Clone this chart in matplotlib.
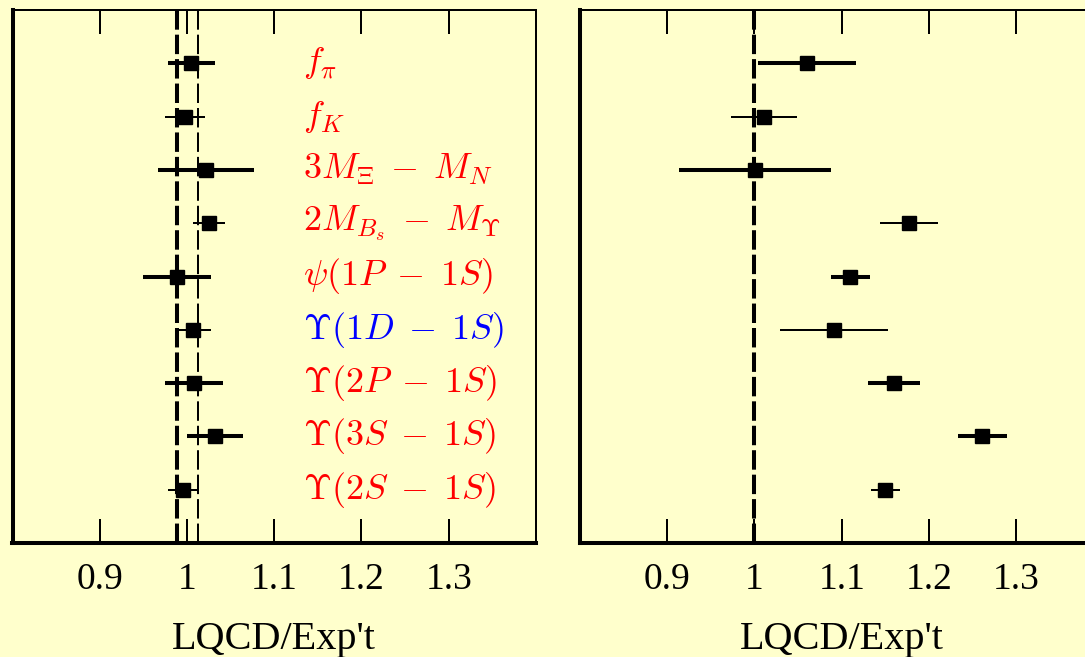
import numpy as np
import matplotlib
matplotlib.use("Agg")
import matplotlib.pyplot as plt

# ratio LQCD / experiment, top row first
labels = [r"$f_\pi$", r"$f_K$", r"$3M_\Xi \;-\; M_N$", r"$2M_{B_s} \;-\; M_\Upsilon$",
          r"$\psi(1P \;-\; 1S)$", r"$\Upsilon(1D \;-\; 1S)$", r"$\Upsilon(2P \;-\; 1S)$",
          r"$\Upsilon(3S \;-\; 1S)$", r"$\Upsilon(2S \;-\; 1S)$"]
label_colors = ["red", "red", "red", "red", "red", "blue", "red", "red", "red"]

# left panel (unquenched)
left_val = [1.005, 0.998, 1.022, 1.025, 0.989, 1.007, 1.008, 1.032, 0.995]
left_err = [0.027, 0.023, 0.055, 0.018, 0.039, 0.021, 0.033, 0.032, 0.017]
# right panel (quenched)
right_val = [1.060, 1.011, 1.001, 1.177, 1.110, 1.091, 1.160, 1.261, 1.150]
right_err = [0.056, 0.038, 0.087, 0.033, 0.022, 0.062, 0.030, 0.028, 0.017]

left_band = [0.989, 1.013]   # dashed lines, left panel
xticks = [0.9, 1.0, 1.1, 1.2, 1.3]
xticklabels = ["0.9", "1", "1.1", "1.2", "1.3"]

bar_lw = [2.9, 1.44, 2.9, 1.44, 2.9, 1.44, 2.9, 2.9, 1.44]  # thick/thin error bars

plt.rcParams['mathtext.fontset'] = 'cm'
plt.rcParams['lines.scale_dashes'] = False
bg = "#ffffcc"

fig = plt.figure(figsize=(10.85, 6.57), dpi=100, facecolor=bg)
ax1 = fig.add_axes([12.5/1085, 114/657, 523.5/1085, 533/657])
ax2 = fig.add_axes([580/1085, 114/657, 523.5/1085, 533/657])

ypos = np.arange(len(labels), 0, -1)

for ax, vals, errs in [(ax1, left_val, left_err), (ax2, right_val, right_err)]:
    ax.set_facecolor(bg)
    for y, v, e, lw in zip(ypos, vals, errs, bar_lw):
        ax.errorbar(v, y, xerr=e, fmt='s', color='k', ms=10, elinewidth=lw,
                    capsize=0, zorder=3)
    ax.set_xlim(0.8, 1.4)
    ax.set_ylim(0, 10)
    ax.set_yticks([])
    ax.set_xticks(xticks)
    ax.set_xticklabels(xticklabels, family="Liberation Serif", fontsize=27)
    ax.tick_params(axis='x', direction='in', top=True, bottom=True,
                   length=17, width=1.44, pad=14)
    ax.spines['left'].set_linewidth(2.9)
    ax.spines['bottom'].set_linewidth(2.9)
    ax.spines['top'].set_linewidth(1.44)
    ax.spines['right'].set_linewidth(1.44)
    ax.set_xlabel("LQCD/Exp't", family="Liberation Serif", fontsize=29, labelpad=17)

ax1.axvline(left_band[0], color='k', lw=2.9, dashes=(14, 3.6), zorder=1)
ax1.axvline(left_band[1], color='k', lw=1.44, dashes=(14, 3.6), zorder=1)
ax2.axvline(1.0, color='k', lw=2.9, dashes=(14, 3.6), zorder=1)

for y, lab, c in zip(ypos, labels, label_colors):
    ax1.text(1.133, y, lab, color=c, fontsize=26, va='center', ha='left')

fig.savefig("out.png", dpi=100, facecolor=bg)
